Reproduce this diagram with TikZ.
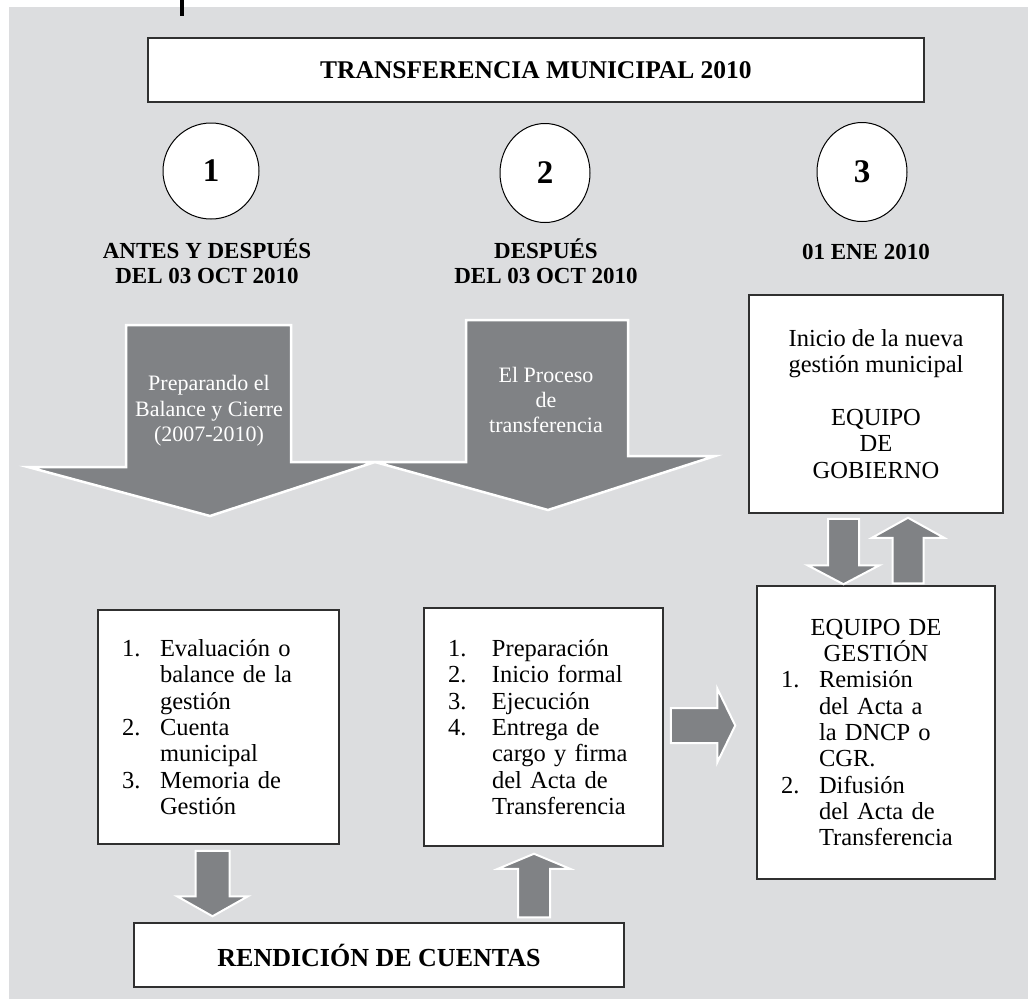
\documentclass[tikz,border=0pt]{standalone}
\usepackage{fontspec}
\setmainfont{Liberation Serif}
\usetikzlibrary{calc,shapes.geometric}
\definecolor{bggray}{HTML}{DCDDDF}
\definecolor{arrgray}{HTML}{808285}
\definecolor{boxline}{HTML}{303030}
\newcommand\lnum[2][38pt]{\makebox[#1][l]{#2}}

\begin{document}
\begin{tikzpicture}[x=1pt,y=-1pt,
  box/.style={draw=boxline,line width=1.5pt,fill=white,inner sep=0pt},
  listbox/.style={box,inner xsep=24pt,align=left,font=\fontsize{24.5}{26.3}\selectfont},
  head/.style={align=center,inner sep=0pt,font=\bfseries\fontsize{23}{25}\selectfont},
  numc/.style={ellipse,draw,line width=1pt,fill=white,inner sep=0pt,font=\bfseries\fontsize{33}{33}\selectfont},
  bigarrow/.style={fill=arrgray,draw=white,line width=2.5pt},
  intext/.style={align=center,text=white,inner sep=0pt,font=\fontsize{22}{25.3}\selectfont},
  blk/.style n args={3}{bigarrow,line width=2pt,to path={
      ($(\tikztostart)!#1!90:(\tikztotarget)$)
   -- ($(\tikztotarget)!#3!(\tikztostart)!#1!-90:(\tikztostart)$)
   -- ($(\tikztotarget)!#3!(\tikztostart)!#2!-90:(\tikztostart)$)
   -- (\tikztotarget)
   -- ($(\tikztotarget)!#3!(\tikztostart)!#2!90:(\tikztostart)$)
   -- ($(\tikztotarget)!#3!(\tikztostart)!#1!90:(\tikztostart)$)
   -- ($(\tikztostart)!#1!-90:(\tikztotarget)$)
   -- cycle}}
]
  \fill[white] (0,0) rectangle (1028,1002); % page
  \fill[bggray] (9,7) rectangle (1028,999); % panel
  \fill (180,0) rectangle (184,16); % tick

  \node[box,line width=1.6pt,minimum width=776pt,minimum height=64pt,
        font=\bfseries\fontsize{25.5}{30}\selectfont] (title) at (536,70) {TRANSFERENCIA MUNICIPAL 2010};

  \node[numc,minimum width=96pt,minimum height=96pt] (c1) at (211,171) {1};
  \node[numc,minimum width=90pt,minimum height=99pt] (c2) at (545,173) {2};
  \node[numc,minimum width=90pt,minimum height=99pt] (c3) at (862,172) {3};

  \node[head,anchor=south] (h1) at (207,284) {ANTES Y DESPUÉS\\DEL 03 OCT 2010};
  \node[head,anchor=south] (h2) at (546,284) {DESPUÉS\\DEL 03 OCT 2010};
  \node[head,anchor=south] (h3) at (866,260) {01 ENE 2010};

  % big arrows
  \draw[bigarrow] (126,325) -- (291,325) -- (291,462) -- (375,462) -- (210,516) -- (28,467) -- (126,467) -- cycle;
  \draw[bigarrow] (466,320) -- (628,320) -- (628,456) -- (715,456) -- (548,510) -- (375,462) -- (466,462) -- cycle;
  \node[intext] (t1) at (209,411) {Preparando el\\Balance y Cierre\\(2007-2010)};
  \node[intext] (t2) at (546,400) {El Proceso\\de\\transferencia};

  \node[listbox,text width=193pt,minimum height=234pt] (box1) at (218.5,727) {%
    \lnum{1.}Evaluación o\\ \lnum{}balance de la\\ \lnum{}gestión\\
    \lnum{2.}Cuenta\\ \lnum{}municipal\\
    \lnum{3.}Memoria de\\ \lnum{}Gestión};
  \node[listbox,text width=191pt,minimum height=238pt] (box2) at (543.5,727) {%
    \lnum[44pt]{1.}Preparación\\ \lnum[44pt]{2.}Inicio formal\\
    \lnum[44pt]{3.}Ejecución\\ \lnum[44pt]{4.}Entrega de\\
    \lnum[44pt]{}cargo y firma\\ \lnum[44pt]{}del Acta de\\ \lnum[44pt]{}Transferencia};
  \node[box,align=center,minimum width=254pt,minimum height=218pt,
        font=\fontsize{24.5}{26.3}\selectfont] (box3) at (876,404) {%
    Inicio de la nueva\\ gestión municipal\\[26.3pt] EQUIPO\\ DE\\ GOBIERNO};
  \node[listbox,text width=190pt,minimum height=293pt] (box4) at (876,732.5) {%
    \makebox[190pt]{EQUIPO DE}\\ \makebox[190pt]{GESTIÓN}\\
    \lnum{1.}Remisión\\ \lnum{}del Acta a\\ \lnum{}la DNCP o\\ \lnum{}CGR.\\
    \lnum{2.}Difusión\\ \lnum{}del Acta de\\ \lnum{}Transferencia};
  \node[box,minimum width=490pt,minimum height=64pt,
        font=\bfseries\fontsize{26}{30}\selectfont] (rend) at (379,955) {RENDICIÓN DE CUENTAS};

  % small arrows
  \coordinate (d1a) at ($(box1.south)+(-6,6)$);
  \coordinate (d1b) at ($(d1a |- rend.north)+(0,-6)$);
  \coordinate (u1a) at ($(rend.north)+(155,-5)$);
  \coordinate (u1b) at ($(u1a |- box2.south)+(0,7)$);
  \coordinate (r1a) at ($(box2.east)+(7,-1.5)$);
  \coordinate (r1b) at ($(r1a -| box4.west)+(-21,0)$);
  \coordinate (d2a) at ($(box3.south)+(-32.5,5)$);
  \coordinate (d2b) at ($(d2a |- box4.north)+(0,-1)$);
  \coordinate (u2a) at ($(box4.north)+(32,-2)$);
  \coordinate (u2b) at ($(u2a |- box3.south)+(0,4)$);
  \draw[blk={17pt}{35.5pt}{20pt}] (d1a) to (d1b);
  \draw[blk={16pt}{36pt}{15pt}] (u1a) to (u1b);
  \draw[blk={17.5pt}{37pt}{18pt}] (r1a) to (r1b);
  \draw[blk={15.5pt}{36pt}{19pt}] (d2a) to (d2b);
  \draw[blk={15.5pt}{36pt}{20pt}] (u2a) to (u2b);
\end{tikzpicture}
\end{document}
